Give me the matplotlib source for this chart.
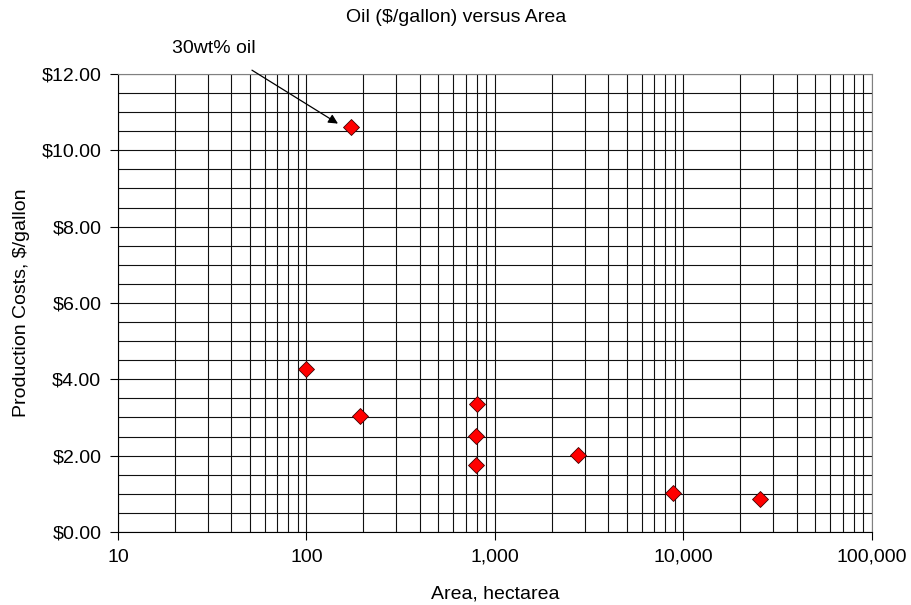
import numpy as np
import matplotlib
matplotlib.use("Agg")
import matplotlib.pyplot as plt
from matplotlib.ticker import FuncFormatter, LogLocator, MultipleLocator, NullFormatter

plt.rcParams['font.family'] = ['Liberation Sans', 'DejaVu Sans']

# data
area_ha = [172, 100, 192, 800, 790, 790, 2750, 8800, 25500]
cost_per_gal = [10.62, 4.27, 3.04, 3.35, 2.52, 1.76, 2.02, 1.02, 0.86]

title = "Oil ($/gallon) versus Area"
xlabel = "Area, hectarea"
ylabel = "Production Costs, $/gallon"
note = "30wt% oil"

fig = plt.figure(figsize=(9.11, 6.05), dpi=100)
ax = fig.add_axes([0.1295, 0.1207, 0.8275, 0.757])

ax.set_xscale('log')
ax.set_xlim(10, 100000)
ax.set_ylim(0, 12)

# grid: every minor log step and every $0.50
ax.xaxis.set_major_locator(LogLocator(base=10))
ax.xaxis.set_minor_locator(LogLocator(base=10, subs=np.arange(2, 10)))
ax.xaxis.set_minor_formatter(NullFormatter())
ax.xaxis.set_major_formatter(FuncFormatter(lambda v, p: f"{v:,.0f}"))
ax.yaxis.set_major_locator(MultipleLocator(2))
ax.yaxis.set_minor_locator(MultipleLocator(0.5))
ax.yaxis.set_major_formatter(FuncFormatter(lambda v, p: f"${v:.2f}"))

ax.grid(which='both', color='#111111', linewidth=0.8)
ax.set_axisbelow(True)
ax.tick_params(which='major', direction='out', length=6, width=0.8, labelsize=14, pad=6)
ax.tick_params(which='minor', length=0)
for s in ['top', 'right']:
    ax.spines[s].set_color('#808080')
for s in ['left', 'bottom']:
    ax.spines[s].set_color('black')
    ax.spines[s].set_linewidth(0.8)

ax.plot(area_ha, cost_per_gal, linestyle='none', marker='D', markersize=8,
        markerfacecolor='#ff0000', markeredgecolor='#400000', markeredgewidth=0.6,
        zorder=5)

fig.text(456 / 911, 1 - 18 / 605, title, fontsize=14, ha='center', va='center')
ax.set_xlabel(xlabel, fontsize=14, labelpad=14)
ax.set_ylabel(ylabel, fontsize=14, labelpad=8)

# annotation arrow
ax.text(19.3, 12.68, note, fontsize=14, va='center', ha='left', clip_on=False)
ax.annotate('', xy=(147, 10.7), xytext=(51.4, 12.1), annotation_clip=False,
            arrowprops=dict(arrowstyle='-|>', color='black', lw=0.9,
                            mutation_scale=14, shrinkA=0, shrinkB=0))

fig.savefig('out.png', dpi=100)
